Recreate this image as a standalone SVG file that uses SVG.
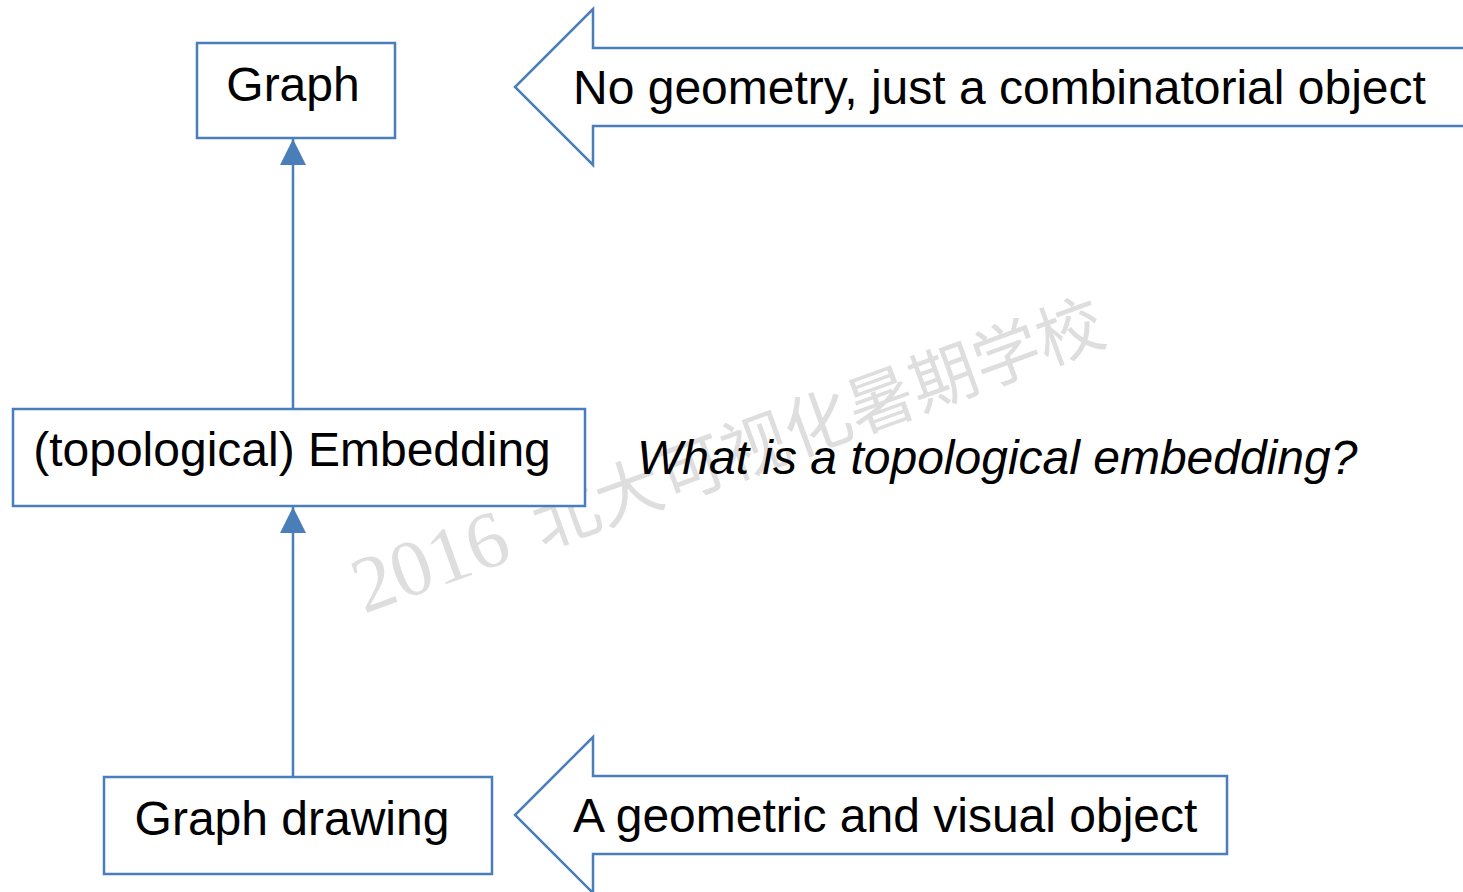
<svg xmlns="http://www.w3.org/2000/svg" width="1463" height="892" viewBox="0 0 1463 892">
<style>
.box{fill:#fff;stroke:#4a7ebb;stroke-width:2.5}
.blk{fill:#fff;stroke:#4a7ebb;stroke-width:2.5;stroke-linejoin:miter}
.t{font-family:"Liberation Sans",Arial,sans-serif;font-size:48px;fill:#000}
.edge{stroke:#4a7ebb;stroke-width:2.5;fill:none}
.wm{font-family:"Liberation Serif","Noto Sans CJK SC",serif;font-size:80px;fill:#dedede}
</style>
<defs>
<marker id="ah" markerWidth="26" markerHeight="26" refX="26" refY="13" orient="auto" markerUnits="userSpaceOnUse">
<path d="M0,0 L26,13 L0,26 Z" fill="#4a7ebb"/>
</marker>
</defs>
<rect width="1463" height="892" fill="#fff"/>
<text class="wm" x="364" y="614" transform="rotate(-20 364 614)">2016<tspan dx="30" font-size="67">北大可视化暑期学校</tspan></text>
<g id="connectors">
<line class="edge" x1="293" y1="408" x2="293" y2="139" marker-end="url(#ah)"/>
<line class="edge" x1="293" y1="776" x2="293" y2="507" marker-end="url(#ah)"/>
</g>
<g id="graph">
<rect class="box" x="197" y="43" width="198" height="95"/>
<text class="t" x="293" y="101" text-anchor="middle">Graph</text>
</g>
<g id="embedding">
<rect class="box" x="13" y="409" width="572" height="97"/>
<text class="t" x="292" y="466" text-anchor="middle">(topological) Embedding</text>
</g>
<g id="drawing">
<rect class="box" x="104" y="777" width="388" height="97"/>
<text class="t" x="292" y="835" text-anchor="middle">Graph drawing</text>
</g>
<g id="note-top">
<path class="blk" d="M1470,48 L593,48 L593,9 L515,87 L593,165 L593,126 L1470,126"/>
<text class="t" x="573" y="104">No geometry, just a combinatorial object</text>
</g>
<g id="question">
<text class="t" x="637" y="474" font-style="italic">What is a topological embedding?</text>
</g>
<g id="note-bottom">
<path class="blk" d="M1227,776 L593,776 L593,737 L515,815 L593,893 L593,854 L1227,854 Z"/>
<text class="t" x="573" y="832">A geometric and visual object</text>
</g>
</svg>
